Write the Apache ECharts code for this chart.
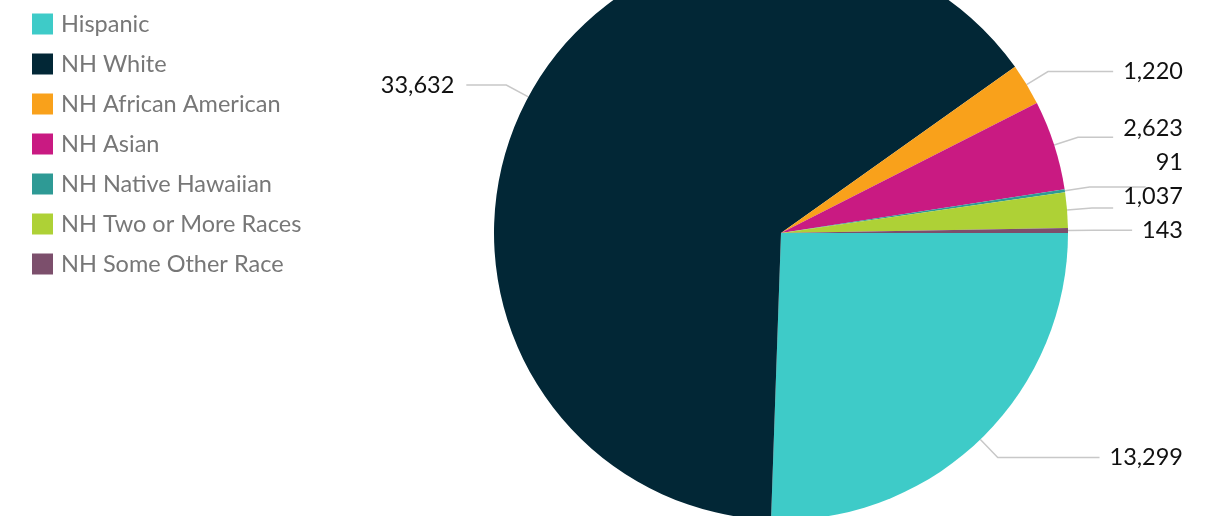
<!DOCTYPE html>
<html>
<head>
<meta charset="utf-8">
<script src="https://cdn.jsdelivr.net/npm/echarts@6/dist/echarts.min.js"></script>
<style>html,body{margin:0;padding:0;background:#fff}#c{width:1206px;height:516px}</style>
</head>
<body>
<div id="c"></div>
<script>
const categories = ['Hispanic','NH White','NH African American','NH Asian','NH Native Hawaiian','NH Two or More Races','NH Some Other Race'];
const values = [13299, 33632, 1220, 2623, 91, 1037, 143];
const colors = ['#3ecbc8','#022736','#f9a11b','#c91a82','#2e9a95','#aed136','#7c4f6c'];

const W = 1206;
const CX = 781, CY = 233, R = 287, LEN1 = 25, GAP = 34;
const natural = {};
let adjusted = null;

function makeLayout() {
  return function (p) {
    const pts = p.labelLinePoints;
    if (!pts) return {};
    const right = pts[2][0] > pts[0][0];
    const cyLabel = p.labelRect.y + p.labelRect.height / 2;
    if (!adjusted) {
      natural[p.dataIndex] = {y: cyLabel, right: right};
    }
    if (right) {
      const x = W - 23;
      const left = x - p.labelRect.width;
      const e = pts[0];
      const k = (R + LEN1) / R;
      const elbow = [CX + (e[0] - CX) * k, CY + (e[1] - CY) * k];
      const y = adjusted && adjusted[p.dataIndex] != null ? adjusted[p.dataIndex] : cyLabel;
      return {x: x, y: y, align: 'right', verticalAlign: 'middle',
        labelLinePoints: [e, elbow, [left - 10, elbow[1]]]};
    }
    return {};
  };
}

const chart = echarts.init(document.getElementById('c'), null, {renderer:'canvas'});
chart.setOption({
  animation: false,
  color: colors,
  legend: {
    orient: 'vertical', left: 32, top: 12, padding: 0,
    itemWidth: 21, itemHeight: 21, itemGap: 16,
    icon: 'rect',
    textStyle: {fontFamily: 'Lato', fontSize: 23.5, lineHeight: 24, color: '#777', padding:[0,0,0,3]},
    data: categories
  },
  series: [{
    type: 'pie',
    center: [CX, CY],
    radius: R,
    startAngle: 0,
    clockwise: true,
    avoidLabelOverlap: false,
    label: {
      show: true, position: 'outside',
      fontFamily: 'Lato', fontSize: 23.5, lineHeight: GAP, color: '#111',
      distanceToLabelLine: 12,
      formatter: p => p.value.toLocaleString('en-US')
    },
    labelLine: {show: true, length: LEN1, length2: 40, lineStyle: {color: '#c8c8c8', width: 1.5}},
    labelLayout: makeLayout(),
    data: categories.map((n, i) => ({name: n, value: values[i]}))
  }]
});

// resolve overlaps on the right side by pushing labels upward
const rightIdx = Object.keys(natural).map(Number).filter(i => natural[i].right)
  .sort((a, b) => natural[b].y - natural[a].y);
adjusted = {};
let prev = Infinity;
rightIdx.forEach(i => {
  const y = Math.min(natural[i].y, prev - GAP);
  adjusted[i] = y;
  prev = y;
});
chart.setOption({series: [{labelLayout: makeLayout()}]});
</script>
</body>
</html>
